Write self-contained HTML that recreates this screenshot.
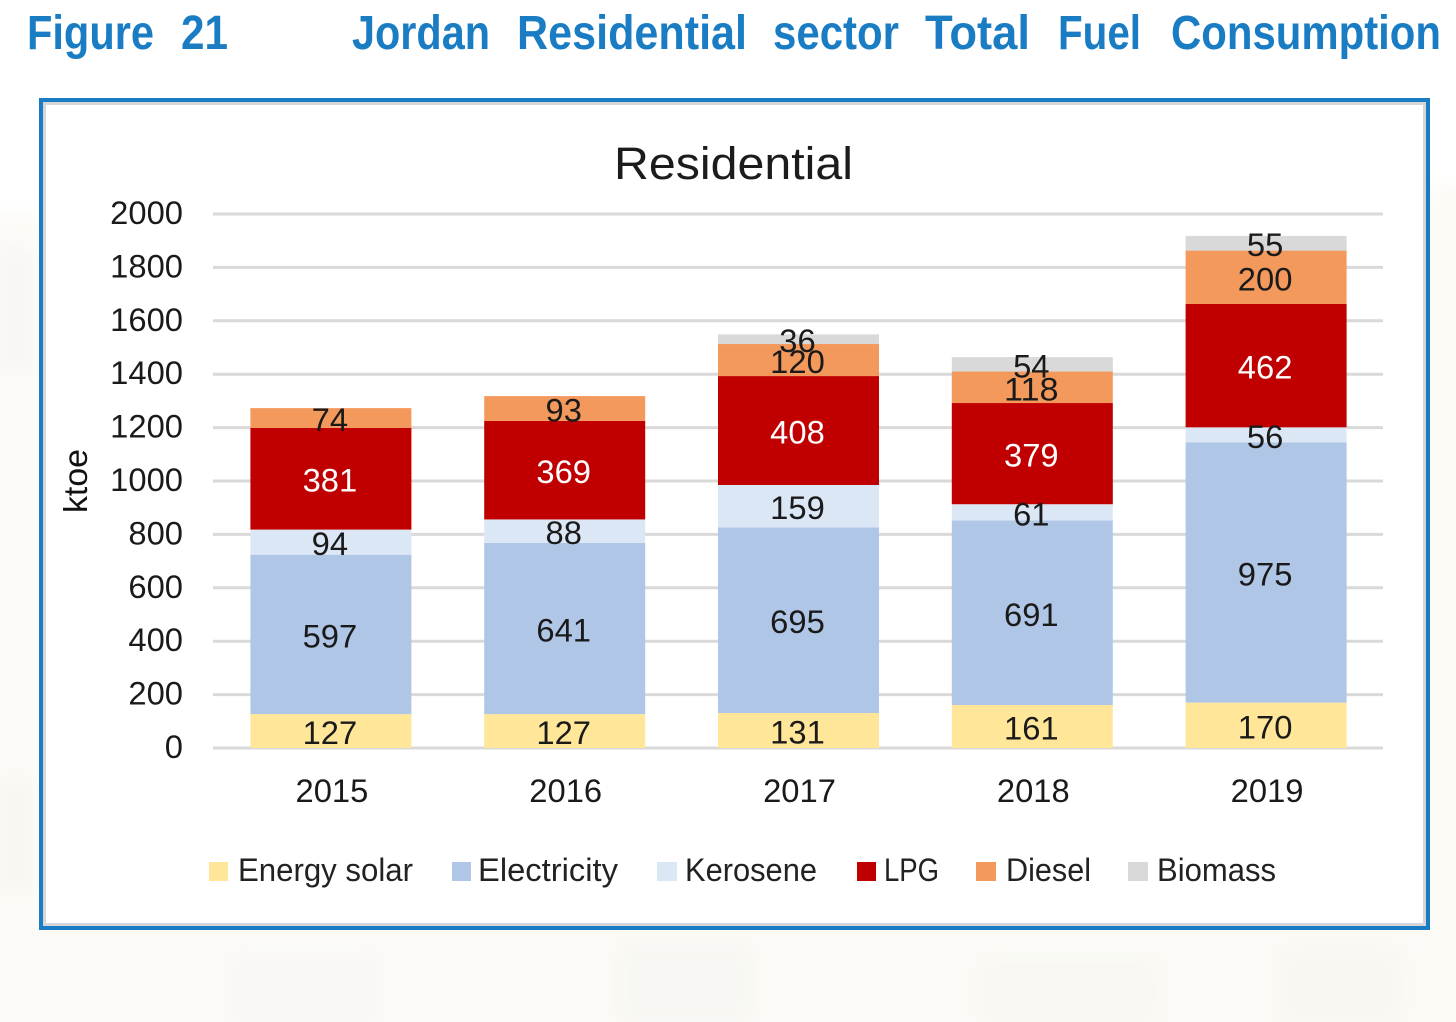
<!DOCTYPE html>
<html lang="en">
<head>
<meta charset="utf-8">
<title>Figure 21 Jordan Residential sector Total Fuel Consumption</title>
<style>
html,body{margin:0;padding:0;background:#fff;width:1456px;height:1022px;overflow:hidden}
svg{display:block;font-family:"Liberation Sans",sans-serif}
</style>
</head>
<body>
<svg id="chart" xmlns="http://www.w3.org/2000/svg" width="1456" height="1022" viewBox="0 0 1456 1022">
  <defs>
    <filter id="soft" x="-20%" y="-20%" width="140%" height="140%"><feGaussianBlur stdDeviation="9"/></filter>
  </defs>
  <g>
    <rect x="0" y="930" width="1456" height="92" fill="#fbfaf6"/>
    <g filter="url(#soft)">
      <rect x="-20" y="215" width="62" height="815" fill="#fbfaf6"/>
      <rect x="1428" y="185" width="50" height="845" fill="#fcfaf4"/>
      <rect x="0" y="250" width="36" height="120" fill="#f8f7f3"/>
      <rect x="0" y="780" width="36" height="110" fill="#f9f7f2"/>
      <rect x="230" y="955" width="150" height="70" fill="#f9f8f4"/>
      <rect x="620" y="945" width="130" height="80" fill="#f8f7f3"/>
      <rect x="980" y="960" width="180" height="65" fill="#f9f8f3"/>
      <rect x="1280" y="950" width="120" height="75" fill="#f9f7f1"/>
    </g>
  </g>

  <g font-weight="700" font-size="48" fill="#1a7dc4">
    <text x="27" y="49" textLength="127" lengthAdjust="spacingAndGlyphs">Figure</text>
    <text x="181" y="49" textLength="47" lengthAdjust="spacingAndGlyphs">21</text>
    <text x="352" y="49" textLength="138" lengthAdjust="spacingAndGlyphs">Jordan</text>
    <text x="517" y="49" textLength="230" lengthAdjust="spacingAndGlyphs">Residential</text>
    <text x="773" y="49" textLength="126" lengthAdjust="spacingAndGlyphs">sector</text>
    <text x="925" y="49" textLength="105" lengthAdjust="spacingAndGlyphs">Total</text>
    <text x="1058" y="49" textLength="83" lengthAdjust="spacingAndGlyphs">Fuel</text>
    <text x="1171" y="49" textLength="270" lengthAdjust="spacingAndGlyphs">Consumption</text>
  </g>

  <g>
    <rect x="39" y="98" width="1391" height="832" fill="#1a7dc4"/>
    <rect x="43" y="102" width="1383" height="824" fill="#d6d6d8"/>
    <rect x="46" y="105" width="1377" height="818" fill="#ffffff"/>
  </g>

  <text x="614" y="179" font-size="45" fill="#1c1c1c" textLength="239" lengthAdjust="spacingAndGlyphs">Residential</text>
  <text transform="translate(87,513) rotate(-90)" font-size="33" fill="#111" textLength="64" lengthAdjust="spacingAndGlyphs">ktoe</text>

  <g id="grid"></g>
  <g id="yticks"></g>
  <g id="xticks"></g>
  <g id="bars"></g>
  <g id="labels"></g>

  <g font-size="32" fill="#222">
    <g><rect x="209" y="862" width="19" height="19" fill="#ffe699"/><text x="238" y="881" textLength="175" lengthAdjust="spacingAndGlyphs">Energy solar</text></g>
    <g><rect x="452" y="862" width="19" height="19" fill="#b0c6e6"/><text x="478" y="881" textLength="140" lengthAdjust="spacingAndGlyphs">Electricity</text></g>
    <g><rect x="657" y="862" width="20" height="19" fill="#dce7f6"/><text x="685" y="881" textLength="132" lengthAdjust="spacingAndGlyphs">Kerosene</text></g>
    <g><rect x="857" y="862" width="19" height="19" fill="#c00000"/><text x="884" y="881" textLength="55" lengthAdjust="spacingAndGlyphs">LPG</text></g>
    <g><rect x="976" y="862" width="20" height="19" fill="#f4995c"/><text x="1006" y="881" textLength="85" lengthAdjust="spacingAndGlyphs">Diesel</text></g>
    <g><rect x="1128" y="862" width="20" height="19" fill="#d9d9d9"/><text x="1157" y="881" textLength="119" lengthAdjust="spacingAndGlyphs">Biomass</text></g>
  </g>
</svg>

<script>
const categories = ["2015", "2016", "2017", "2018", "2019"];
const yTickValues = [0, 200, 400, 600, 800, 1000, 1200, 1400, 1600, 1800, 2000];
const energySolar = [127, 127, 131, 161, 170];
const electricity = [597, 641, 695, 691, 975];
const kerosene = [94, 88, 159, 61, 56];
const lpg = [381, 369, 408, 379, 462];
const diesel = [74, 93, 120, 118, 200];
const biomass = [0, 0, 36, 54, 55];

const seriesList = [
  { name: "energy-solar", values: energySolar, color: "#ffe699", text: "#1a1a1a" },
  { name: "electricity", values: electricity, color: "#b0c6e6", text: "#1a1a1a" },
  { name: "kerosene", values: kerosene, color: "#dce7f6", text: "#1a1a1a" },
  { name: "lpg", values: lpg, color: "#c00000", text: "#ffffff" },
  { name: "diesel", values: diesel, color: "#f4995c", text: "#1a1a1a" },
  { name: "biomass", values: biomass, color: "#d9d9d9", text: "#1a1a1a" }
];

const NS = "http://www.w3.org/2000/svg";
const plotLeft = 213, plotRight = 1383, plotBottom = 748, plotTop = 214, yMax = 2000;
const bandLeft = 214;
const barWidth = 161, digitWidth = 18.2, digitSize = 32;

function yScale(v) { return plotBottom - (v / yMax) * (plotBottom - plotTop); }
function xBand(i) { return bandLeft + (i + 0.5) * (plotRight - bandLeft) / categories.length; }

function make(tag, attrs, parent) {
  const el = document.createElementNS(NS, tag);
  for (const k in attrs) el.setAttribute(k, attrs[k]);
  parent.appendChild(el);
  return el;
}
function numberText(parent, str, x, y, anchor, fill) {
  const el = make("text", {
    x: x, y: y, "text-anchor": anchor, "font-size": digitSize, fill: fill,
    textLength: str.length * digitWidth, lengthAdjust: "spacingAndGlyphs"
  }, parent);
  el.textContent = str;
  return el;
}

const gridG = document.getElementById("grid");
const yTickG = document.getElementById("yticks");
const xTickG = document.getElementById("xticks");
const barsG = document.getElementById("bars");
const labelsG = document.getElementById("labels");

yTickValues.forEach(function (t) {
  const line = make("line", {
    x1: plotLeft, x2: plotRight, y1: yScale(t), y2: yScale(t),
    stroke: "#d9d9d9", "stroke-width": 3
  }, gridG);
  
  
  const label = numberText(yTickG, String(t), 183, yScale(t) + 10, "end", "#1a1a1a");
  
  
});

categories.forEach(function (cat, i) {
  const tick = numberText(xTickG, cat, xBand(i) + 1, 802, "middle", "#1a1a1a");
  
  

  let running = 0;
  seriesList.forEach(function (s) {
    const v = s.values[i];
    if (!v) return;
    const top = yScale(running + v);
    const bottom = yScale(running);
    const bar = make("rect", {
      x: xBand(i) - barWidth / 2, y: top, width: barWidth, height: bottom - top, fill: s.color
    }, barsG);
    
    
    const label = numberText(labelsG, String(v), xBand(i) - 1, (top + bottom) / 2 + 13, "middle", s.text);
    
    
    running += v;
  });
});
</script>
</body>
</html>
